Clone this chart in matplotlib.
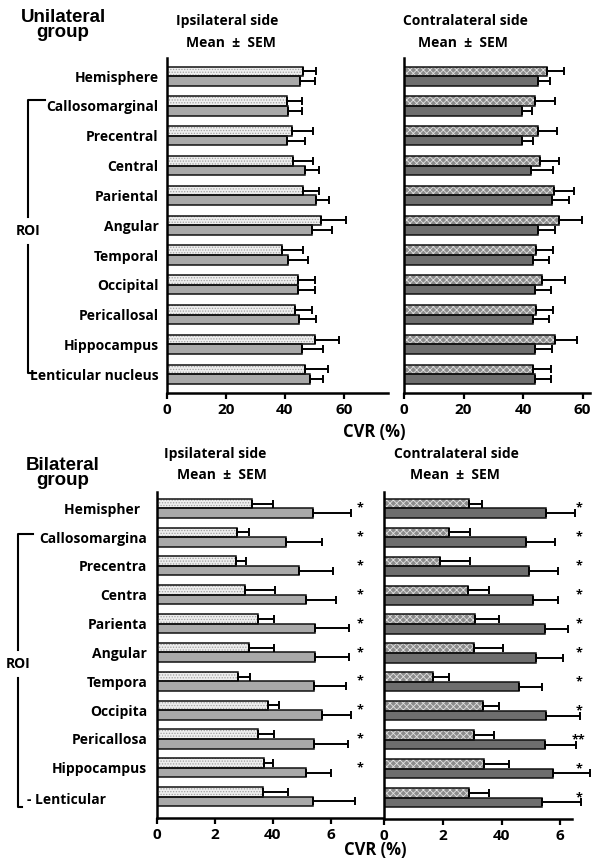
import numpy as np
import matplotlib
matplotlib.use('Agg')
from matplotlib import pyplot as plt
from matplotlib.lines import Line2D
from matplotlib.transforms import blended_transform_factory

W, H = 593, 868

uni_rois = ['Hemisphere', 'Callosomarginal', 'Precentral', 'Central', 'Pariental', 'Angular',
            'Temporal', 'Occipital', 'Pericallosal', 'Hippocampus', 'Lenticular nucleus']
bi_rois  = ['Hemispher  ', 'Callosomargina', 'Precentra', 'Centra', 'Parienta', 'Angular',
            'Tempora', 'Occipita', 'Pericallosa', 'Hippocampus', 'Lenticular']

# unilateral group, ipsilateral side (dotted / grey)
uni_ipsi_a     = [46.0, 40.6, 42.3, 42.8, 46.0, 52.3, 39.0, 44.3, 43.5, 50.2, 46.8]
uni_ipsi_a_sem = [4.4, 5.3, 7.1, 6.6, 5.5, 8.5, 7.1, 6.0, 5.8, 8.1, 7.9]
uni_ipsi_b     = [45.1, 41.2, 40.6, 46.9, 50.6, 49.3, 41.1, 44.4, 44.7, 45.9, 48.4]
uni_ipsi_b_sem = [5.2, 4.7, 6.2, 4.6, 4.3, 6.7, 6.8, 5.9, 5.9, 7.0, 4.7]
# unilateral group, contralateral side (cross hatched / dark grey)
uni_contra_a     = [48.1, 44.0, 44.9, 45.8, 50.4, 52.0, 44.2, 46.4, 44.2, 50.7, 43.4]
uni_contra_a_sem = [5.8, 6.7, 6.5, 6.3, 6.8, 7.8, 5.9, 7.8, 5.9, 7.5, 5.9]
uni_contra_b     = [44.9, 39.6, 39.7, 42.8, 49.6, 44.9, 43.4, 44.1, 43.4, 44.1, 44.1]
uni_contra_b_sem = [4.3, 3.4, 3.8, 7.1, 6.0, 6.0, 5.3, 5.3, 5.4, 5.5, 5.2]
# bilateral group
bi_ipsi_a     = [32.7, 27.6, 27.2, 30.4, 35.0, 31.9, 27.9, 38.2, 35.0, 36.9, 36.6]
bi_ipsi_a_sem = [7.2, 4.0, 3.6, 10.2, 5.5, 8.6, 4.3, 3.8, 5.5, 3.2, 8.5]
bi_ipsi_b     = [53.8, 44.4, 49.1, 51.4, 54.6, 54.6, 54.3, 56.9, 54.2, 51.4, 53.8]
bi_ipsi_b_sem = [13.0, 12.5, 11.5, 10.3, 11.8, 11.8, 10.8, 9.9, 11.7, 8.7, 14.6]
bi_contra_a     = [29.1, 22.0, 19.0, 28.7, 31.0, 30.8, 16.8, 33.8, 30.8, 34.2, 29.1]
bi_contra_a_sem = [4.2, 7.2, 10.3, 7.1, 8.3, 9.7, 5.2, 5.4, 6.6, 8.2, 6.7]
bi_contra_b     = [55.3, 48.3, 49.2, 50.7, 54.7, 51.7, 46.1, 55.3, 54.7, 57.6, 53.7]
bi_contra_b_sem = [9.8, 9.8, 9.9, 8.7, 8.1, 9.3, 7.7, 11.5, 10.8, 12.4, 13.2]
bi_ipsi_stars   = ['*'] * 10 + ['']
bi_contra_stars = ['*'] * 8 + ['**', '*', '*']

xticks = [0, 20, 40, 60]
uni_xticklabels = ['0', '20', '40', '60']
bi_xticklabels  = ['0', '2', '40', '6']

plt.rcParams['font.family'] = ['Open Sans', 'DejaVu Sans']
plt.rcParams['font.weight'] = 'bold'
plt.rcParams['hatch.linewidth'] = 0.6


def fx(px):
    return px / W


def fy(py):
    return 1 - py / H


def make_ax(fig, l, r, t, b):
    return fig.add_axes([fx(l), fy(b), fx(r) - fx(l), fy(t) - fy(b)])


def draw_panel(ax, a, a_sem, b, b_sem, contra, xlim, ylim, h, xticklabels):
    y = np.arange(len(a))
    ya = y - h / 2
    yb = y + h / 2
    if contra:
        ax.barh(ya, a, height=h, color='#8c8c8c', hatch='xxxxx', edgecolor='#e0e0e0', lw=0)
        ax.barh(yb, b, height=h, color='#6e6e6e', lw=0)
    else:
        ax.barh(ya, a, height=h, color='#eeeeee', hatch='......', edgecolor='#a0a0a0', lw=0)
        ax.barh(yb, b, height=h, color='#a9a9a9', lw=0)
    ax.barh(ya, a, height=h, fill=False, edgecolor='#111111', lw=1.1)
    ax.barh(yb, b, height=h, fill=False, edgecolor='#111111', lw=1.1)
    z = np.zeros(len(a))
    for vals, yy, err in ((a, ya, a_sem), (b, yb, b_sem)):
        eb = ax.errorbar(vals, yy, xerr=[z, err], fmt='none', ecolor='black',
                         elinewidth=1.4, capsize=2.6, capthick=1.4)
        for art in eb.get_children():
            art.set_clip_on(False)
    ax.set_xlim(*xlim)
    ax.set_ylim(*ylim)
    ax.set_xticks(xticks)
    ax.set_xticklabels(xticklabels, fontsize=11, fontweight='bold')
    ax.tick_params(axis='x', direction='out', length=4, width=1.6, pad=3)
    ax.tick_params(axis='y', length=0)
    for s in ('top', 'right'):
        ax.spines[s].set_visible(False)
    for s in ('left', 'bottom'):
        ax.spines[s].set_linewidth(1.8)
    return y


fig = plt.figure(figsize=(W / 100, H / 100), dpi=100)

# ---- unilateral group ----
ax1 = make_ax(fig, 167, 388, 58, 393)
y = draw_panel(ax1, uni_ipsi_a, uni_ipsi_a_sem, uni_ipsi_b, uni_ipsi_b_sem, False,
               (0, 75), (10.63, -0.61), 0.32, uni_xticklabels)
ax1.set_yticks(y)
ax1.set_yticklabels(uni_rois, fontsize=10, fontweight='bold')
ax1.tick_params(axis='y', pad=6)

ax2 = make_ax(fig, 404, 590, 58, 393)
y = draw_panel(ax2, uni_contra_a, uni_contra_a_sem, uni_contra_b, uni_contra_b_sem, True,
               (0, 62.5), (10.63, -0.61), 0.32, uni_xticklabels)
ax2.set_yticks([])

# ---- bilateral group ----
ax3 = make_ax(fig, 157, 383, 492, 818)
y = draw_panel(ax3, bi_ipsi_a, bi_ipsi_a_sem, bi_ipsi_b, bi_ipsi_b_sem, False,
               (0, 78), (10.74, -0.565), 0.33, bi_xticklabels)
ax3.set_yticks(y[:-1])
ax3.set_yticklabels(bi_rois[:-1], fontsize=10, fontweight='bold')
ax3.tick_params(axis='y', pad=7)
trans = blended_transform_factory(fig.transFigure, ax3.transData)
ax3.text(fx(27), y[-1] + 0.12, '- ' + bi_rois[-1], transform=trans, ha='left', va='center',
         fontsize=10, fontweight='bold')
for yy, s in zip(y, bi_ipsi_stars):
    ax3.text(70, yy, s, ha='center', va='center', fontsize=9)

ax4 = make_ax(fig, 384, 572, 492, 819)
y = draw_panel(ax4, bi_contra_a, bi_contra_a_sem, bi_contra_b, bi_contra_b_sem, True,
               (0, 64), (10.74, -0.565), 0.33, bi_xticklabels)
ax4.set_yticks([])
for yy, s in zip(y, bi_contra_stars):
    ax4.text(66.3, yy, s, ha='center', va='center', fontsize=9, clip_on=False)

# ---- titles and labels ----
tkw = dict(ha='center', va='center', fontweight='bold')
fig.text(fx(63), fy(25), 'Unilateral\ngroup', family='Liberation Sans', fontsize=13.5,
         linespacing=0.9, **tkw)
fig.text(fx(63), fy(473), 'Bilateral\ngroup', family='Liberation Sans', fontsize=13.5,
         linespacing=0.9, **tkw)
fig.text(fx(227), fy(21), 'Ipsilateral side', fontsize=10, **tkw)
fig.text(fx(231), fy(43), 'Mean  ±  SEM', fontsize=10, **tkw)
fig.text(fx(465), fy(21), 'Contralateral side', fontsize=10, **tkw)
fig.text(fx(463), fy(43), 'Mean  ±  SEM', fontsize=10, **tkw)
fig.text(fx(215), fy(454), 'Ipsilateral side', fontsize=10, **tkw)
fig.text(fx(222), fy(475), 'Mean  ±  SEM', fontsize=10, **tkw)
fig.text(fx(456), fy(454), 'Contralateral side', fontsize=10, **tkw)
fig.text(fx(455), fy(475), 'Mean  ±  SEM', fontsize=10, **tkw)
fig.text(fx(374), fy(432), 'CVR (%)', fontsize=12, **tkw)
fig.text(fx(375), fy(850), 'CVR (%)', fontsize=12, **tkw)
fig.text(fx(28), fy(231), 'ROI', fontsize=10, **tkw)
fig.text(fx(18), fy(664), 'ROI', fontsize=10, **tkw)


# ROI brackets
def bracket(x, top, gap_a, gap_b, bottom, top_len, bot_len):
    segs = [([x + top_len, x, x], [top, top, gap_a]),
            ([x, x, x + bot_len], [gap_b, bottom, bottom])]
    for xs, ys in segs:
        fig.add_artist(Line2D([fx(v) for v in xs], [fy(v) for v in ys], color='black', lw=1.5))


bracket(28, 100, 217, 245, 373, 17, 8)
bracket(18, 534, 650, 678, 807, 15, 4)

fig.savefig('out.png', dpi=100)
